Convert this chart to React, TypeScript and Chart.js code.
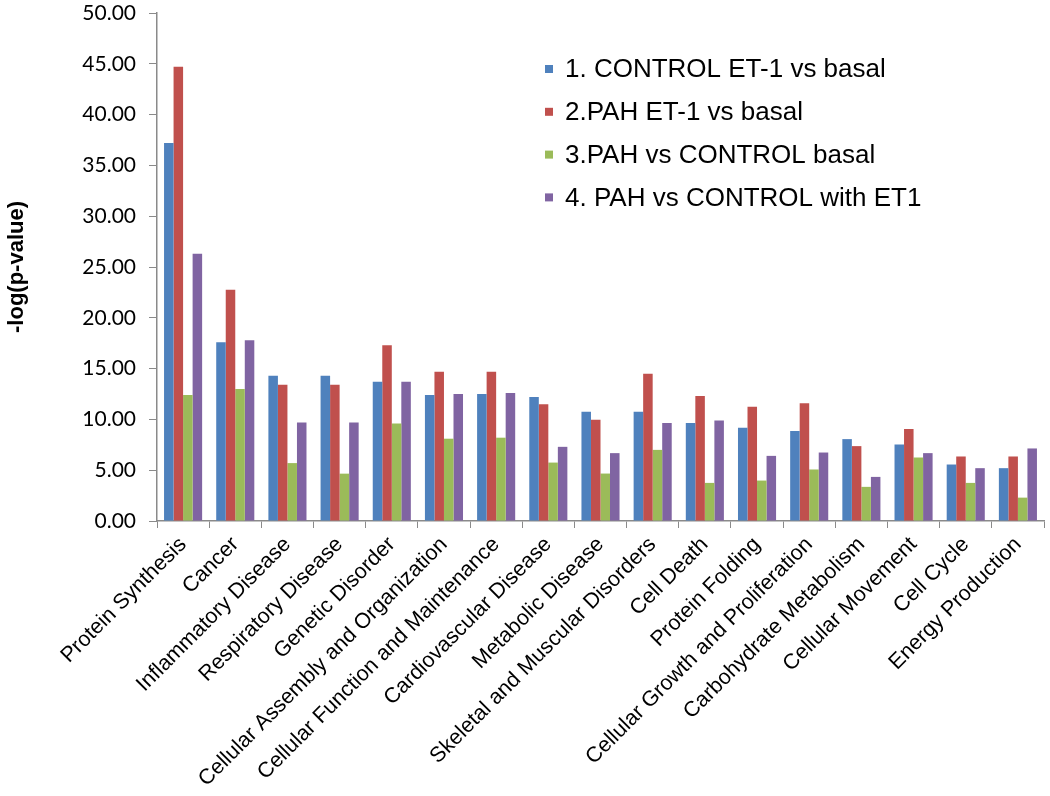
import React, { useEffect, useRef } from "react";
import { Chart, registerables } from "chart.js";

Chart.register(...registerables);

const categories = [
  "Protein Synthesis",
  "Cancer",
  "Inflammatory Disease",
  "Respiratory Disease",
  "Genetic Disorder",
  "Cellular Assembly and Organization",
  "Cellular Function and Maintenance",
  "Cardiovascular Disease",
  "Metabolic Disease",
  "Skeletal and Muscular Disorders",
  "Cell Death",
  "Protein Folding",
  "Cellular Growth and Proliferation",
  "Carbohydrate Metabolism",
  "Cellular Movement",
  "Cell Cycle",
  "Energy Production",
];

const seriesNames = [
  "1. CONTROL ET-1 vs basal",
  "2.PAH ET-1 vs basal",
  "3.PAH vs CONTROL basal",
  "4. PAH vs CONTROL with ET1",
];

const controlEt1VsBasal = [37.2, 17.6, 14.3, 14.3, 13.7, 12.4, 12.5, 12.2, 10.75, 10.75, 9.64, 9.17, 8.85, 8.06, 7.53, 5.56, 5.2];
const pahEt1VsBasal = [44.7, 22.75, 13.4, 13.4, 17.3, 14.7, 14.7, 11.5, 9.97, 14.5, 12.3, 11.25, 11.6, 7.37, 9.05, 6.35, 6.35];
const pahVsControlBasal = [12.4, 13.0, 5.7, 4.66, 9.6, 8.1, 8.2, 5.75, 4.67, 7.0, 3.75, 3.98, 5.07, 3.36, 6.25, 3.75, 2.3];
const pahVsControlWithEt1 = [26.3, 17.8, 9.7, 9.7, 13.7, 12.5, 12.6, 7.3, 6.68, 9.64, 9.9, 6.41, 6.74, 4.34, 6.68, 5.2, 7.14];

const colors = ["#4F81BD", "#C0504D", "#9BBB59", "#8064A2"];

const yMin = 0;
const yMax = 50;
const yStep = 5;

const insideLegend = {
  id: "insideLegend",
  afterDraw(chart: any) {
    const ctx = chart.ctx;
    ctx.save();
    ctx.font = "26px 'Liberation Sans', Arial, sans-serif";
    ctx.textBaseline = "middle";
    ctx.textAlign = "left";
    const x0 = 545;
    const y0 = 69;
    const gap = 42.8;
    chart.data.datasets.forEach((ds: any, i: number) => {
      const y = y0 + i * gap;
      ctx.fillStyle = ds.backgroundColor;
      ctx.fillRect(x0, y - 4, 8, 8);
      ctx.fillStyle = "#000";
      ctx.fillText(ds.label, x0 + 20, y + 1);
    });
    ctx.restore();
  },
};

export default function App() {
  const canvasRef = useRef<HTMLCanvasElement | null>(null);

  useEffect(() => {
    document.body.style.margin = "0";
    const canvas = canvasRef.current;
    if (!canvas) return;
    const allSeries = [controlEt1VsBasal, pahEt1VsBasal, pahVsControlBasal, pahVsControlWithEt1];
    const chart = new Chart(canvas, {
      type: "bar",
      data: {
        labels: categories,
        datasets: allSeries.map((d, i) => ({
          label: seriesNames[i],
          data: d,
          backgroundColor: colors[i],
          borderWidth: 0,
          barPercentage: 1.0,
          categoryPercentage: 0.73,
        })),
      },
      options: {
        animation: false,
        responsive: true,
        maintainAspectRatio: false,
        layout: { padding: { top: 0, right: 6, left: 0, bottom: 0 } },
        plugins: {
          legend: { display: false },
          tooltip: { enabled: false },
        },
        scales: {
          x: {
            afterFit: (s: any) => {
              s.height = 275;
            },
            grid: {
              display: true,
              drawOnChartArea: false,
              drawTicks: true,
              tickLength: 7,
              color: "#8a8a8a",
              offset: true,
            },
            border: { display: true, color: "#8a8a8a", width: 1.5 },
            ticks: {
              autoSkip: false,
              maxRotation: 45,
              minRotation: 45,
              color: "#000",
              padding: 4,
              font: { family: "'Liberation Sans', Arial, sans-serif", size: 21.5 },
            },
          },
          y: {
            min: yMin,
            max: yMax,
            afterFit: (s: any) => {
              s.width = 157;
              s.paddingTop = 13;
              s.paddingBottom = 0;
            },
            grid: {
              display: true,
              drawOnChartArea: false,
              drawTicks: true,
              tickLength: 8,
              color: "#8a8a8a",
            },
            border: { display: true, color: "#8a8a8a", width: 1.5 },
            ticks: {
              stepSize: yStep,
              color: "#000",
              padding: 13,
              font: { family: "Lato, 'Open Sans', sans-serif", size: 21 },
              callback: (v: any) => Number(v).toFixed(2),
            },
            title: {
              display: true,
              text: "-log(p-value)",
              color: "#000",
              font: { family: "'Liberation Sans', Arial, sans-serif", size: 22, weight: "bold" },
              padding: { top: 4, bottom: 4 },
            },
          },
        },
      },
      plugins: [insideLegend],
    });
    return () => chart.destroy();
  }, []);

  return (
    <div style={{ width: 1050, height: 796, position: "relative", background: "#fff" }}>
      <canvas ref={canvasRef} />
    </div>
  );
}
